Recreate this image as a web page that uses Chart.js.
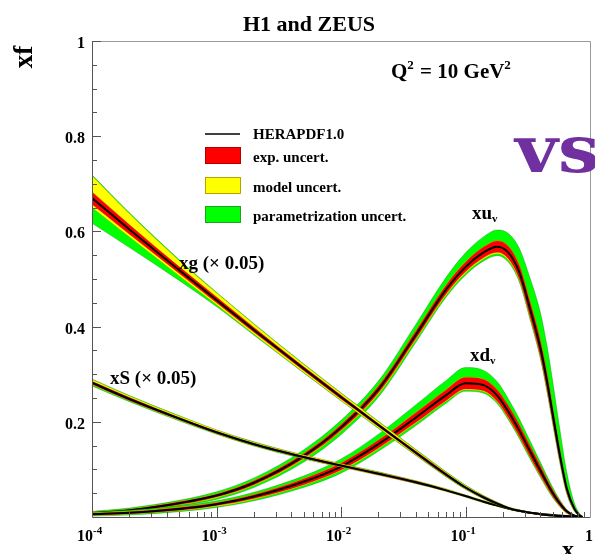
<!DOCTYPE html>
<html lang="en">
<head>
<meta charset="UTF-8">
<title>HERAPDF1.0 parton distributions</title>
<script src="https://cdn.jsdelivr.net/npm/chart.js@4/dist/chart.umd.min.js"></script>
<style>
  body { margin: 0; background: #fff; }
  #wrap { width: 595px; height: 554px; }
</style>
</head>
<body>
<div id="wrap"><canvas id="pdfChart" width="595" height="554"></canvas></div>
<script>
// x grid shared by every distribution
const xValues = [1e-4, 2e-4, 5e-4, 1e-3, 2e-3, 5e-3, 0.01, 0.02, 0.04, 0.07, 0.1, 0.14,
                 0.18, 0.22, 0.27, 0.33, 0.4, 0.45, 0.5, 0.57, 0.65, 0.75, 0.82, 0.87];

// u valence
const xuvCentral = [0.008, 0.014, 0.029, 0.045, 0.072, 0.128, 0.188, 0.268, 0.383, 0.478, 0.525, 0.556, 0.568, 0.556, 0.515, 0.437, 0.354, 0.287, 0.218, 0.133, 0.060, 0.017, 0.004, 0];
const xuvExp     = [0.002, 0.002, 0.003, 0.003, 0.004, 0.005, 0.006, 0.007, 0.008, 0.009, 0.010, 0.011, 0.012, 0.013, 0.014, 0.015, 0.016, 0.016, 0.014, 0.011, 0.007, 0.003, 0.001, 0];
const xuvModUp   = [0.003, 0.003, 0.004, 0.004, 0.005, 0.006, 0.007, 0.008, 0.009, 0.010, 0.011, 0.012, 0.013, 0.014, 0.016, 0.018, 0.019, 0.018, 0.016, 0.013, 0.008, 0.004, 0.001, 0];
const xuvModDn   = [0.003, 0.003, 0.004, 0.005, 0.006, 0.007, 0.008, 0.010, 0.011, 0.012, 0.013, 0.014, 0.015, 0.016, 0.017, 0.018, 0.019, 0.019, 0.017, 0.014, 0.009, 0.004, 0.001, 0];
const xuvParUp   = [0.004, 0.005, 0.006, 0.008, 0.010, 0.013, 0.015, 0.018, 0.022, 0.026, 0.030, 0.033, 0.035, 0.040, 0.050, 0.065, 0.075, 0.075, 0.070, 0.055, 0.035, 0.012, 0.004, 0];
const xuvParDn   = [0.004, 0.005, 0.006, 0.008, 0.010, 0.013, 0.015, 0.016, 0.016, 0.016, 0.017, 0.018, 0.019, 0.020, 0.021, 0.022, 0.022, 0.022, 0.020, 0.017, 0.011, 0.005, 0.002, 0];

// d valence
const xdvCentral = [0.006, 0.009, 0.017, 0.027, 0.043, 0.074, 0.106, 0.153, 0.209, 0.256, 0.281, 0.277, 0.255, 0.222, 0.182, 0.138, 0.097, 0.072, 0.051, 0.029, 0.012, 0.003, 0.001, 0];
const xdvExp     = [0.002, 0.002, 0.003, 0.003, 0.004, 0.006, 0.007, 0.008, 0.010, 0.011, 0.012, 0.012, 0.012, 0.012, 0.012, 0.011, 0.010, 0.008, 0.007, 0.005, 0.003, 0.001, 0, 0];
const xdvModUp   = [0.003, 0.003, 0.004, 0.004, 0.005, 0.007, 0.008, 0.009, 0.011, 0.012, 0.013, 0.013, 0.013, 0.013, 0.013, 0.012, 0.011, 0.009, 0.008, 0.006, 0.003, 0.001, 0, 0];
const xdvModDn   = [0.003, 0.003, 0.004, 0.005, 0.006, 0.008, 0.009, 0.010, 0.012, 0.013, 0.014, 0.014, 0.014, 0.014, 0.014, 0.013, 0.012, 0.010, 0.008, 0.006, 0.004, 0.001, 0, 0];
const xdvParUp   = [0.004, 0.005, 0.006, 0.007, 0.009, 0.012, 0.016, 0.021, 0.027, 0.031, 0.033, 0.031, 0.029, 0.027, 0.025, 0.022, 0.018, 0.015, 0.012, 0.008, 0.004, 0.001, 0, 0];
const xdvParDn   = [0.004, 0.005, 0.006, 0.007, 0.009, 0.012, 0.014, 0.015, 0.017, 0.017, 0.017, 0.017, 0.017, 0.017, 0.017, 0.016, 0.014, 0.012, 0.010, 0.007, 0.004, 0.001, 0, 0];

// gluon, scaled by 0.05
const xgCentral = [0.670, 0.604, 0.519, 0.456, 0.393, 0.312, 0.252, 0.193, 0.135, 0.089, 0.062, 0.041, 0.028, 0.019, 0.013, 0.009, 0.006, 0.004, 0.003, 0.002, 0.001, 0, 0, 0];
const xgExp     = [0.013, 0.010, 0.007, 0.006, 0.005, 0.004, 0.004, 0.003, 0.003, 0.003, 0.002, 0.002, 0.002, 0.001, 0.001, 0.001, 0.001, 0.001, 0, 0, 0, 0, 0, 0];
const xgModUp   = [0.047, 0.033, 0.020, 0.015, 0.012, 0.009, 0.008, 0.007, 0.006, 0.005, 0.004, 0.003, 0.003, 0.002, 0.002, 0.001, 0.001, 0.001, 0.001, 0, 0, 0, 0, 0];
const xgModDn   = [0.020, 0.016, 0.012, 0.010, 0.009, 0.008, 0.007, 0.006, 0.005, 0.004, 0.003, 0.003, 0.002, 0.002, 0.001, 0.001, 0.001, 0.001, 0.001, 0, 0, 0, 0, 0];
const xgParUp   = [0.049, 0.035, 0.022, 0.016, 0.013, 0.010, 0.009, 0.008, 0.007, 0.006, 0.005, 0.004, 0.003, 0.002, 0.002, 0.001, 0.001, 0.001, 0.001, 0, 0, 0, 0, 0];
const xgParDn   = [0.053, 0.038, 0.022, 0.014, 0.011, 0.009, 0.008, 0.007, 0.006, 0.005, 0.004, 0.003, 0.003, 0.002, 0.002, 0.001, 0.001, 0.001, 0.001, 0, 0, 0, 0, 0];

// sea, scaled by 0.05
const xSCentral = [0.282, 0.248, 0.207, 0.178, 0.153, 0.126, 0.108, 0.091, 0.073, 0.056, 0.044, 0.032, 0.024, 0.018, 0.013, 0.009, 0.006, 0.005, 0.004, 0.003, 0.002, 0.001, 0, 0];
const xSExp     = [0.003, 0.003, 0.002, 0.002, 0.002, 0.002, 0.002, 0.002, 0.002, 0.001, 0.001, 0.001, 0.001, 0.001, 0.001, 0.001, 0.001, 0, 0, 0, 0, 0, 0, 0];
const xSModUp   = [0.007, 0.006, 0.005, 0.005, 0.004, 0.004, 0.004, 0.003, 0.003, 0.003, 0.002, 0.002, 0.002, 0.001, 0.001, 0.001, 0.001, 0.001, 0.001, 0, 0, 0, 0, 0];
const xSModDn   = [0.004, 0.004, 0.004, 0.003, 0.003, 0.003, 0.003, 0.003, 0.002, 0.002, 0.002, 0.002, 0.001, 0.001, 0.001, 0.001, 0.001, 0.001, 0, 0, 0, 0, 0, 0];
const xSParUp   = [0.008, 0.007, 0.006, 0.005, 0.005, 0.004, 0.004, 0.004, 0.003, 0.003, 0.002, 0.002, 0.002, 0.001, 0.001, 0.001, 0.001, 0.001, 0.001, 0, 0, 0, 0, 0];
const xSParDn   = [0.007, 0.006, 0.005, 0.004, 0.004, 0.004, 0.003, 0.003, 0.003, 0.002, 0.002, 0.002, 0.001, 0.001, 0.001, 0.001, 0.001, 0.001, 0, 0, 0, 0, 0, 0];

// axis labels
const xDecadeExponents = [-4, -3, -2, -1];
const yTickLabels = ['0.2', '0.4', '0.6', '0.8', '1'];
const legendItems = ['HERAPDF1.0', 'exp. uncert.', 'model uncert.', 'parametrization uncert.'];

const SERIF = '"Liberation Serif", "Times New Roman", serif';
const GREEN = '#00ff00', YELLOW = '#ffff00', RED = '#ff0000';

function edge(central, delta, sign) {
    return xValues.map((x, i) => ({ x: x, y: Math.max(0, central[i] + sign * delta[i]) }));
}

// lower edge first, upper edge fills back down to it
function bandPair(central, up, dn, fillColor, edgeColor, order) {
    const common = { pointRadius: 0, borderWidth: 0.6, borderColor: edgeColor,
                     cubicInterpolationMode: 'monotone', order: order };
    return [
        Object.assign({ data: edge(central, dn, -1), fill: false }, common),
        Object.assign({ data: edge(central, up, 1), fill: '-1', backgroundColor: fillColor }, common)
    ];
}

function pdfDatasets(c, exp, modUp, modDn, parUp, parDn, layer) {
    const base = layer * 10;
    return [].concat(
        bandPair(c, parUp, parDn, GREEN, 'rgba(0,100,0,0.5)', base + 3),
        bandPair(c, modUp, modDn, YELLOW, 'rgba(150,130,0,0.5)', base + 2),
        bandPair(c, exp, exp, RED, 'rgba(140,0,0,0.45)', base + 1),
        [{ data: edge(c, exp, 0), borderColor: '#000', borderWidth: 2, pointRadius: 0,
           fill: false, cubicInterpolationMode: 'monotone', order: base }]
    );
}

const datasets = [].concat(
    pdfDatasets(xuvCentral, xuvExp, xuvModUp, xuvModDn, xuvParUp, xuvParDn, 3),
    pdfDatasets(xdvCentral, xdvExp, xdvModUp, xdvModDn, xdvParUp, xdvParDn, 2),
    pdfDatasets(xSCentral, xSExp, xSModUp, xSModDn, xSParUp, xSParDn, 1),
    pdfDatasets(xgCentral, xgExp, xgModUp, xgModDn, xgParUp, xgParDn, 0)
);

// text with a raised (or lowered) second part, returns end x
function drawScript(ctx, x, y, main, script, size, scriptSize, shift) {
    ctx.font = 'bold ' + size + 'px ' + SERIF;
    ctx.fillText(main, x, y);
    x += ctx.measureText(main).width;
    ctx.font = 'bold ' + scriptSize + 'px ' + SERIF;
    ctx.fillText(script, x, y - shift);
    return x + ctx.measureText(script).width;
}

const decorations = {
    id: 'decorations',
    afterDraw(chart) {
        const ctx = chart.ctx;
        const area = chart.chartArea;
        const xs = chart.scales.x, ys = chart.scales.y;
        ctx.save();

        // frame
        ctx.lineWidth = 1;
        ctx.strokeStyle = '#999';
        ctx.beginPath();
        ctx.moveTo(area.left, area.top + 0.5);
        ctx.lineTo(area.right + 0.5, area.top + 0.5);
        ctx.lineTo(area.right + 0.5, area.bottom);
        ctx.stroke();
        ctx.strokeStyle = '#555';
        ctx.beginPath();
        ctx.moveTo(area.left + 0.5, area.top);
        ctx.lineTo(area.left + 0.5, area.bottom + 0.5);
        ctx.lineTo(area.right + 0.5, area.bottom + 0.5);
        ctx.stroke();

        // inward tick marks
        ctx.beginPath();
        for (let e = -4; e < 0; e++) {
            for (let m = 1; m <= 9; m++) {
                const px = Math.round(xs.getPixelForValue(m * Math.pow(10, e))) + 0.5;
                const len = m === 1 ? 10 : 5;
                ctx.moveTo(px, area.bottom);
                ctx.lineTo(px, area.bottom - len);
            }
        }
        for (let k = 1; k <= 20; k++) {
            const py = Math.round(ys.getPixelForValue(k * 0.05)) + 0.5;
            const len = k % 4 === 0 ? 9 : 5;
            ctx.moveTo(area.left, py);
            ctx.lineTo(area.left + len, py);
        }
        ctx.stroke();

        ctx.fillStyle = '#000';
        ctx.textBaseline = 'alphabetic';

        // y tick labels
        ctx.font = 'bold 16px ' + SERIF;
        ctx.textAlign = 'right';
        yTickLabels.forEach(label => {
            const py = ys.getPixelForValue(parseFloat(label));
            ctx.fillText(label, area.left - 7, py + 7);
        });

        // x tick labels: 10 with superscript exponent
        ctx.textAlign = 'left';
        xDecadeExponents.forEach(e => {
            const px = xs.getPixelForValue(Math.pow(10, e));
            ctx.font = 'bold 16px ' + SERIF;
            const w = ctx.measureText('10').width;
            drawScript(ctx, px + 1 - w, 541, '10', String(e), 16, 11, 7);
        });
        ctx.font = 'bold 16px ' + SERIF;
        ctx.textAlign = 'center';
        ctx.fillText('1', xs.getPixelForValue(1) - 1, 541);

        // axis titles
        ctx.font = 'bold 24px ' + SERIF;
        ctx.fillText('x', 568, 557);
        ctx.save();
        ctx.translate(32, 57);
        ctx.rotate(-Math.PI / 2);
        ctx.font = 'bold 27px ' + SERIF;
        ctx.fillText('xf', 0, 0);
        ctx.restore();

        // title
        ctx.font = 'bold 22px ' + SERIF;
        ctx.fillText('H1 and ZEUS', 309, 31);

        // Q^2 label
        ctx.textAlign = 'left';
        const qx = drawScript(ctx, 391, 78, 'Q', '2', 21, 13, 9);
        drawScript(ctx, qx + 1, 78, ' = 10 GeV', '2', 21, 13, 9);

        // legend
        ctx.strokeStyle = '#000';
        ctx.lineWidth = 1.5;
        ctx.beginPath();
        ctx.moveTo(205, 134);
        ctx.lineTo(240, 134);
        ctx.stroke();
        const boxColors = [RED, YELLOW, GREEN];
        const boxEdges = ['#a00000', '#a09000', '#2a8a2a'];
        const boxTops = [147, 177, 206];
        boxColors.forEach((col, i) => {
            ctx.fillStyle = col;
            ctx.fillRect(205, boxTops[i], 36, 17);
            ctx.strokeStyle = boxEdges[i];
            ctx.lineWidth = 0.8;
            ctx.strokeRect(205.5, boxTops[i] + 0.5, 35, 16);
        });
        ctx.fillStyle = '#000';
        ctx.font = 'bold 15px ' + SERIF;
        const textY = [139, 162, 192, 221];
        legendItems.forEach((t, i) => ctx.fillText(t, 253, textY[i]));

        // curve labels
        ctx.font = 'bold 19px ' + SERIF;
        ctx.fillText('xg (\u00d7 0.05)', 179, 269);
        ctx.fillText('xS (\u00d7 0.05)', 110, 384);
        drawScript(ctx, 472, 219, 'xu', 'v', 19, 11, -3);
        drawScript(ctx, 470, 361, 'xd', 'v', 19, 11, -3);

        // vs
        ctx.fillStyle = '#7030a0';
        ctx.font = 'bold 66px "DejaVu Serif", serif';
        ctx.translate(515, 172);
        ctx.scale(1.12, 1);
        ctx.fillText('vs', 0, 0);

        ctx.restore();
    }
};

new Chart(document.getElementById('pdfChart'), {
    type: 'line',
    data: { datasets: datasets },
    options: {
        responsive: false,
        animation: false,
        events: [],
        layout: { padding: { left: 92, right: 5, top: 41, bottom: 37 } },
        plugins: { legend: { display: false }, tooltip: { enabled: false } },
        scales: {
            x: { type: 'logarithmic', min: 1e-4, max: 1, display: false },
            y: { type: 'linear', min: 0, max: 1, display: false }
        }
    },
    plugins: [decorations]
});
</script>
</body>
</html>
